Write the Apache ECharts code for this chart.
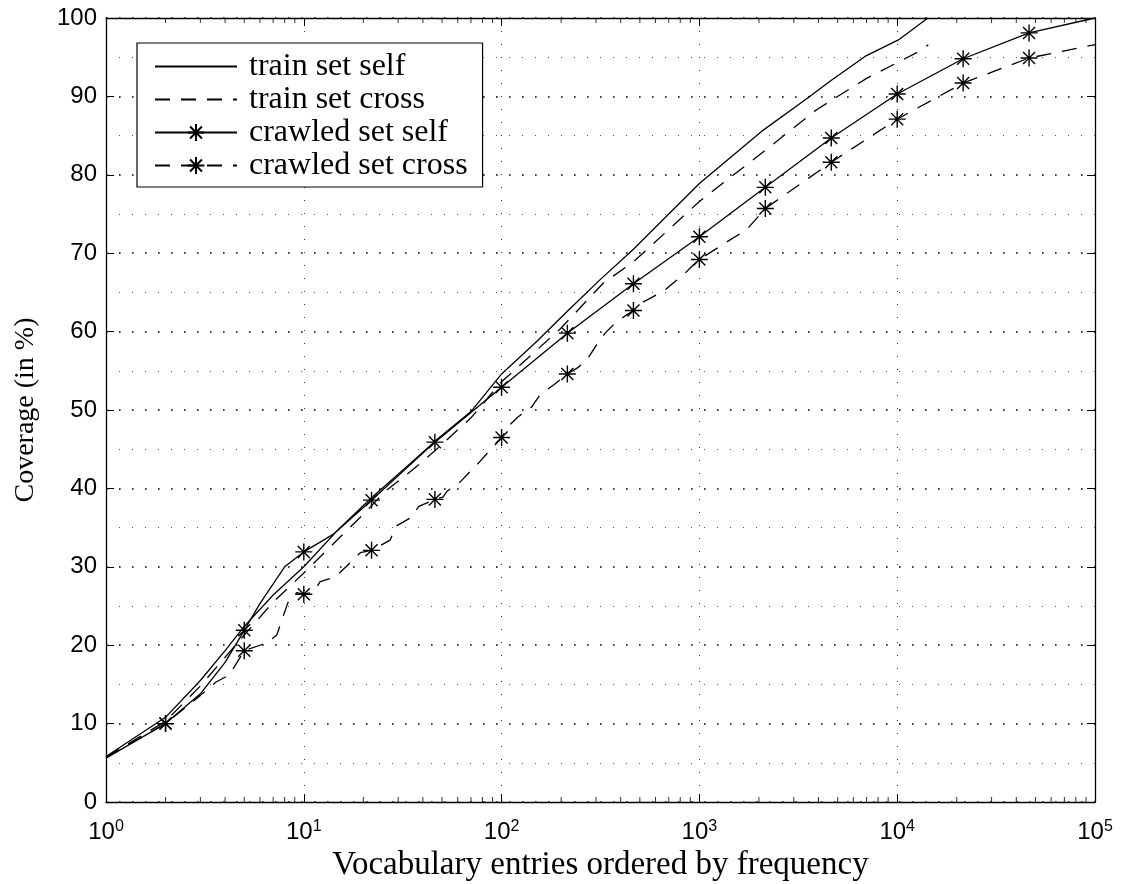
<!DOCTYPE html>
<html><head><meta charset="utf-8">
<script src="https://cdn.jsdelivr.net/npm/echarts@6/dist/echarts.min.js"></script>
<style>html,body{margin:0;padding:0;background:#fff}#c{width:1124px;height:884px}</style>
</head><body><div id="c"></div>
<script>
// ---- data ----
const seriesNames = ['train set self', 'train set cross', 'crawled set self', 'crawled set cross'];

const trainSelfX = [1, 2, 3, 4, 5, 7, 10, 15, 22, 30, 46, 70, 100, 150, 215, 314, 464, 700, 1000, 2104, 3485, 4667, 6875, 10140, 14300];
const trainSelfY = [5.8, 10.8, 15.5, 19.3, 22.4, 26.4, 30.0, 34.8, 38.8, 41.8, 46.0, 49.8, 54.6, 58.7, 62.6, 66.6, 70.5, 75.0, 78.9, 85.7, 89.7, 92.1, 95.1, 97.2, 100];

const trainCrossX = [1, 2, 3, 5, 7, 10, 15, 20, 26, 36, 46, 70, 100, 197, 327, 464, 1000, 2275, 3910, 7000, 13300, 14360];
const trainCrossY = [5.7, 10.3, 14.8, 21.3, 25.5, 29.2, 33.6, 36.7, 39.7, 42.5, 44.8, 49.0, 53.6, 60.3, 66.2, 68.9, 76.6, 83.6, 88.3, 92.3, 95.9, 96.6];

const crawledSelfX = [1, 2, 3, 4, 5, 6, 8, 10, 14, 22, 46, 100, 215, 464, 1000, 2154, 4642, 10000, 21544, 46416, 100000];
const crawledSelfY = [5.6, 10.0, 13.8, 17.8, 21.9, 25.3, 30.0, 31.9, 34.1, 38.5, 45.9, 52.9, 59.8, 66.1, 72.1, 78.4, 84.7, 90.3, 94.8, 98.1, 100];

const crawledCrossX = [1, 2, 3, 3.6, 4.2, 5, 6.5, 7.3, 8.3, 9.2, 10, 11.2, 12.1, 14.4, 16.5, 19.3, 22, 27.3, 29.3, 34.4, 38.2, 46, 50.5, 52.8, 61.6, 76.2, 87.5, 98, 100, 108, 121, 142, 156, 183, 215, 243, 273, 302, 334, 375, 427, 464, 520, 560, 670, 753, 813, 914, 1000, 1429, 1734, 2154, 4642, 10000, 21544, 46416, 100000];
const crawledCrossY = [5.7, 10.0, 13.6, 15.3, 16.2, 19.3, 20.3, 21.3, 25.4, 26.7, 26.5, 26.8, 28.1, 28.7, 30.1, 31.8, 32.1, 33.4, 35.2, 36.2, 37.7, 38.6, 38.9, 39.6, 40.8, 43.2, 44.9, 46.2, 46.5, 47.9, 49.1, 50.4, 51.9, 53.2, 54.6, 55.4, 56.6, 58.3, 59.8, 61.1, 62.1, 62.7, 63.8, 64.2, 65.3, 66.4, 67.0, 68.3, 69.2, 71.7, 73.0, 75.7, 81.6, 87.1, 91.7, 94.9, 96.6];

const markerX = [2, 5, 10, 22, 46, 100, 215, 464, 1000, 2154, 4642, 10000, 21544, 46416];

const xMin = 1, xMax = 100000;
const yMin = 0, yMax = 100, yStep = 10;
const minorMultipliers = [2, 3, 4, 5, 6, 7, 8, 9];
const decades = [1, 10, 100, 1000, 10000];

// ---- build ----
const STAR = 'path://M0,-10L0,10M-10,0L10,0M-7.07,-7.07L7.07,7.07M-7.07,7.07L7.07,-7.07';
const DASH = [15, 11];

function mkData(xs, ys, withMarkers) {
  return xs.map((x, i) => {
    const m = withMarkers && markerX.indexOf(x) >= 0;
    return m ? { value: [x, ys[i]] } : { value: [x, ys[i]], symbol: 'none' };
  });
}

const minorTicksBottom = [], minorTicksTop = [];
decades.forEach(d => minorMultipliers.forEach(k => {
  minorTicksBottom.push([d * k, yMin]);
  minorTicksTop.push([d * k, yMax]);
}));

const SERIF = 'Liberation Serif';
const SANS = 'Liberation Sans';
const lineBase = { type: 'line', xAxisIndex: 0, yAxisIndex: 0, smooth: false, animation: false, z: 5, emphasis: { disabled: true } };

const chart = echarts.init(document.getElementById('c'), null, { renderer: 'canvas' });
chart.setOption({
  backgroundColor: '#fff',
  animation: false,
  grid: { left: 106, right: 29, top: 18, bottom: 82, containLabel: false, outerBoundsMode: 'none' },
  xAxis: [{
    type: 'log', logBase: 10, min: xMin, max: xMax, position: 'bottom',
    name: 'Vocabulary entries ordered by frequency', nameLocation: 'middle', nameGap: 46,
    nameTextStyle: { fontFamily: SERIF, fontSize: 33, color: '#000' },
    axisLine: { show: true, onZero: false, lineStyle: { color: '#000', width: 1.3 } },
    axisTick: { show: true, inside: true, length: 8, lineStyle: { color: '#000', width: 1 } },
    axisLabel: {
      margin: 17, color: '#000',
      formatter: v => '{b|10}{s|' + Math.round(Math.log10(v)) + '}',
      rich: {
        b: { fontFamily: SANS, fontSize: 24, color: '#000', lineHeight: 26 },
        s: { fontFamily: SANS, fontSize: 16, color: '#000', verticalAlign: 'top', lineHeight: 14 }
      }
    },
    splitLine: { show: true, lineStyle: { color: '#333', width: 1, type: [1, 12] } },
    minorTick: { show: false }, minorSplitLine: { show: false }
  }, {
    type: 'log', logBase: 10, min: xMin, max: xMax, position: 'top',
    axisLine: { show: true, onZero: false, lineStyle: { color: '#000', width: 1.3 } },
    axisTick: { show: true, inside: true, length: 8, lineStyle: { color: '#000', width: 1 } },
    axisLabel: { show: false }, splitLine: { show: false }
  }],
  yAxis: [{
    type: 'value', min: yMin, max: yMax, interval: yStep, position: 'left',
    name: 'Coverage (in %)', nameLocation: 'middle', nameGap: 66, nameRotate: 90,
    nameTextStyle: { fontFamily: SERIF, fontSize: 28, color: '#000' },
    axisLine: { show: true, onZero: false, lineStyle: { color: '#000', width: 1.3 } },
    axisTick: { show: true, inside: true, length: 8, lineStyle: { color: '#000', width: 1 } },
    axisLabel: { fontFamily: SANS, fontSize: 24, color: '#000', margin: 9 },
    splitLine: { show: true, lineStyle: { color: '#000', width: 1.6, type: [1.6, 11.4] } },
    minorTick: { show: false, splitNumber: 2 },
    minorSplitLine: { show: true, lineStyle: { color: '#555', width: 1, type: [1, 12] } }
  }, {
    type: 'value', min: yMin, max: yMax, interval: yStep, position: 'right',
    axisLine: { show: true, onZero: false, lineStyle: { color: '#000', width: 1.3 } },
    axisTick: { show: true, inside: true, length: 8, lineStyle: { color: '#000', width: 1 } },
    axisLabel: { show: false }, splitLine: { show: false }
  }],
  legend: {
    data: seriesNames,
    orient: 'vertical', left: 137, top: 43,
    backgroundColor: '#fff', borderColor: '#000', borderWidth: 1.2, borderRadius: 0,
    padding: [7, 15, 5, 17],
    itemWidth: 82, itemHeight: 21, itemGap: 0,
    selectedMode: false,
    textStyle: { fontFamily: SERIF, fontSize: 32, color: '#000', lineHeight: 33, padding: [0, 0, 0, 7] }
  },
  series: [
    Object.assign({}, lineBase, {
      name: seriesNames[0], data: mkData(trainSelfX, trainSelfY, false),
      symbol: 'rect', showSymbol: false,
      lineStyle: { color: '#000', width: 1.3, type: 'solid' },
      itemStyle: { color: 'rgba(0,0,0,0)', borderWidth: 0 }
    }),
    Object.assign({}, lineBase, {
      name: seriesNames[1], data: mkData(trainCrossX, trainCrossY, false),
      symbol: 'rect', showSymbol: false,
      lineStyle: { color: '#000', width: 1.3, type: DASH },
      itemStyle: { color: 'rgba(0,0,0,0)', borderWidth: 0 }
    }),
    Object.assign({}, lineBase, {
      name: seriesNames[2], data: mkData(crawledSelfX, crawledSelfY, true),
      symbol: STAR, symbolSize: 17, showSymbol: true, showAllSymbol: true,
      lineStyle: { color: '#000', width: 1.3, type: 'solid' },
      itemStyle: { color: '#000', borderColor: '#000', borderWidth: 1.4 }
    }),
    Object.assign({}, lineBase, {
      name: seriesNames[3], data: mkData(crawledCrossX, crawledCrossY, true),
      symbol: STAR, symbolSize: 17, showSymbol: true, showAllSymbol: true,
      lineStyle: { color: '#000', width: 1.3, type: DASH },
      itemStyle: { color: '#000', borderColor: '#000', borderWidth: 1.4 }
    }),
    {
      type: 'scatter', name: 'minor ticks bottom', data: minorTicksBottom, silent: true, clip: false,
      symbol: 'rect', symbolSize: [1, 5], symbolOffset: [0, -2.5], itemStyle: { color: '#000' }, z: 3
    },
    {
      type: 'scatter', name: 'minor ticks top', data: minorTicksTop, silent: true, clip: false,
      symbol: 'rect', symbolSize: [1, 5], symbolOffset: [0, 2.5], itemStyle: { color: '#000' }, z: 3
    }
  ]
});
</script>
</body></html>
